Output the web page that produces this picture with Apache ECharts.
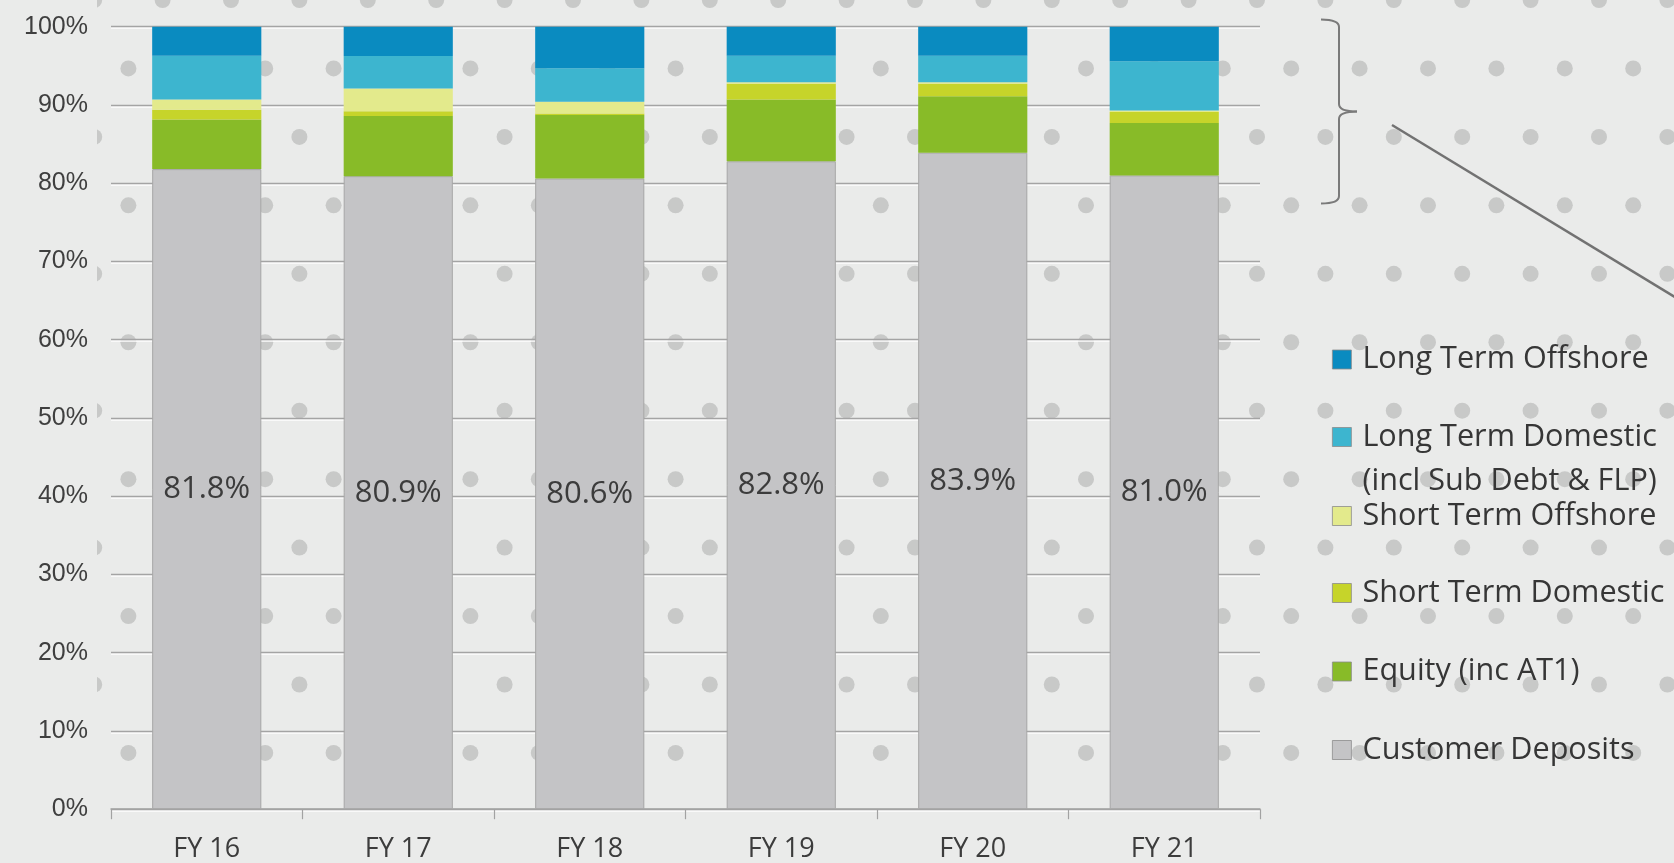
<!DOCTYPE html>
<html>
<head>
<meta charset="utf-8">
<title>Funding mix FY16–FY21</title>
<script src="https://cdn.jsdelivr.net/npm/echarts@6/dist/echarts.min.js"></script>
<style>
  html, body { margin: 0; padding: 0; background: #eaebea; }
  #chart { width: 1674px; height: 863px; }
</style>
</head>
<body>
<div id="chart"></div>
<script>
// Funding sources as a share of total funding (%), stacked bottom to top
const categories = ['FY 16', 'FY 17', 'FY 18', 'FY 19', 'FY 20', 'FY 21'];
const customerDeposits   = [81.8, 80.9, 80.6, 82.8, 83.9, 81.0];
const equity             = [6.35, 7.7, 8.1, 7.9, 7.2, 6.7];
const shortTermDomestic  = [1.25, 0.6, 0.2, 2.0, 1.6, 1.4];
const shortTermOffshore  = [1.3, 2.9, 1.5, 0.2, 0.2, 0.2];
const longTermDomestic   = [5.6, 4.15, 4.3, 3.4, 3.4, 6.3];
const longTermOffshore   = [3.7, 3.75, 5.3, 3.7, 3.7, 4.4];

// Value axis range and step (percent)
const axisMin = 0;
const axisMax = 100;
const axisStep = 10;

const seriesDefs = [
  { name: 'Customer Deposits', data: customerDeposits, color: '#c4c4c6' },
  { name: 'Equity (inc AT1)', data: equity, color: '#88bb28' },
  { name: 'Short Term Domestic', data: shortTermDomestic, color: '#c6d42a' },
  { name: 'Short Term Offshore', data: shortTermOffshore, color: '#e3ea8c' },
  { name: 'Long Term Domestic (incl Sub Debt & FLP)', data: longTermDomestic, color: '#3db5cf' },
  { name: 'Long Term Offshore', data: longTermOffshore, color: '#0a8bc0' }
];

const chart = echarts.init(document.getElementById('chart'), null, { renderer: 'canvas' });

// Dotted backdrop
const W = 1674, H = 863;
const pitchX = 68.4, pitchY = 68.45;
const backdrop = [];
for (let r = 0; r * pitchY < H + 10; r++) {
  const y = r * pitchY;
  const x0 = (r % 2 === 0) ? 25.8 : 60.0;
  for (let x = x0; x < W + 10; x += pitchX) {
    backdrop.push({
      type: 'circle', silent: true, z: -20,
      shape: { cx: x, cy: y, r: 8 },
      style: { fill: '#c8c9c8' }
    });
  }
}
// plain strips behind the axis labels
backdrop.push({ type: 'rect', silent: true, z: -10, shape: { x: 0, y: 0, width: 97, height: H }, style: { fill: '#eaebea' } });
backdrop.push({ type: 'rect', silent: true, z: -10, shape: { x: 0, y: 813, width: W, height: H - 813 }, style: { fill: '#eaebea' } });

// brace grouping the non-deposit funding, with a leader line
const braceStyle = { fill: 'none', stroke: '#7a7a7a', lineWidth: 2 };
const bracePieces = [
  { type: 'bezierCurve', shape: { x1: 1321, y1: 19.5, cpx1: 1339, cpy1: 19.5, x2: 1339, y2: 27 } },
  { type: 'line', shape: { x1: 1339, y1: 27, x2: 1339, y2: 104 } },
  { type: 'bezierCurve', shape: { x1: 1339, y1: 104, cpx1: 1339, cpy1: 111.5, x2: 1357, y2: 111.5 } },
  { type: 'bezierCurve', shape: { x1: 1357, y1: 111.5, cpx1: 1339, cpy1: 111.5, x2: 1339, y2: 119 } },
  { type: 'line', shape: { x1: 1339, y1: 119, x2: 1339, y2: 196 } },
  { type: 'bezierCurve', shape: { x1: 1339, y1: 196, cpx1: 1339, cpy1: 203.5, x2: 1321, y2: 203.5 } }
];
bracePieces.forEach(p => backdrop.push(Object.assign({ silent: true, z: 5, style: braceStyle }, p)));
backdrop.push({
  type: 'line', silent: true, z: 5,
  shape: { x1: 1392, y1: 125, x2: 1700, y2: 312.3 },
  style: { stroke: '#727272', lineWidth: 2.5 }
});

// one legend block per entry so each row sits on its own line
const legendRows = [
  { name: 'Long Term Offshore', cy: 359.5, lines: 1 },
  { name: 'Long Term Domestic (incl Sub Debt & FLP)', cy: 437, lines: 3 },
  { name: 'Short Term Offshore', cy: 516, lines: 1 },
  { name: 'Short Term Domestic', cy: 593, lines: 1 },
  { name: 'Equity (inc AT1)', cy: 671.5, lines: 1 },
  { name: 'Customer Deposits', cy: 750, lines: 1 }
];
const lineH = 44;
const legends = legendRows.map(row => {
  const lg = {
    data: [row.name],
    orient: 'vertical',
    left: 1332,
    top: row.cy - (row.lines * lineH) / 2,
    padding: 0,
    icon: 'rect',
    itemWidth: 19,
    itemHeight: 19,
    selectedMode: false,
    itemStyle: { borderColor: '#8c8c8c', borderWidth: 0.8 },
    textStyle: {
      fontFamily: 'Open Sans', fontSize: 30.6, color: '#363636',
      lineHeight: lineH, padding: [0, 0, 0, 6]
    }
  };
  if (row.lines > 1) {
    lg.formatter = n => '\n' + n.replace(' (', '\n(');
  }
  return lg;
});

const series = seriesDefs.map((s, i) => ({
  name: s.name,
  type: 'bar',
  stack: 'funding',
  data: s.data,
  barWidth: '57%',
  itemStyle: i === 0
    ? { color: s.color, borderColor: '#a6a6a6', borderWidth: 1 }
    : { color: s.color },
  emphasis: { disabled: true },
  label: i === 0 ? {
    show: true,
    position: 'inside',
    formatter: p => p.value.toFixed(1) + '%',
    fontFamily: 'Open Sans',
    fontSize: 31,
    color: '#3c3c3c'
  } : { show: false }
}));

chart.setOption({
  backgroundColor: 'transparent',
  animation: false,
  graphic: { elements: backdrop },
  legend: legends,
  grid: {
    left: 111, right: 1674 - 1260, top: 26.7, bottom: 863 - 809.2,
    outerBoundsMode: 'none'
  },
  xAxis: {
    type: 'category',
    data: categories,
    axisLine: { show: true, lineStyle: { color: '#a2a2a2', width: 1.5 } },
    axisTick: { show: true, length: 10, lineStyle: { color: '#a2a2a2', width: 1.2 } },
    axisLabel: { fontFamily: 'Open Sans', fontSize: 27, color: '#3c3c3c', margin: 27 }
  },
  yAxis: {
    type: 'value',
    min: axisMin, max: axisMax, interval: axisStep,
    axisLine: { show: false },
    axisTick: { show: false },
    axisLabel: {
      formatter: '{value}%',
      fontFamily: 'Liberation Sans', fontSize: 25, color: '#3f3f3f', margin: 23
    },
    splitLine: {
      show: true,
      lineStyle: {
        color: '#a4a4a4', width: 1.3,
        shadowColor: 'rgba(255,255,255,0.95)', shadowOffsetY: 1.5, shadowBlur: 0
      }
    }
  },
  series: series
});
</script>
</body>
</html>
